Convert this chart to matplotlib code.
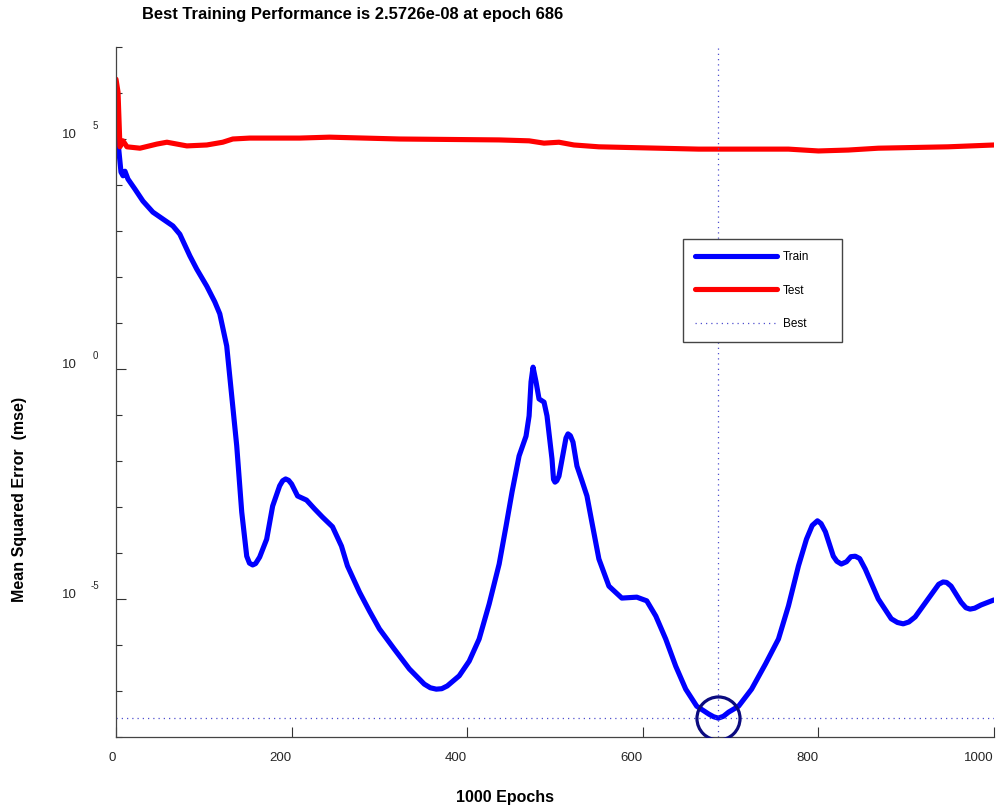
"""
MATLAB-style training performance plot (train / test MSE on a log axis).
"""

import matplotlib
matplotlib.use('Agg')
import matplotlib.pyplot as plt
import matplotlib.ticker as mticker
import matplotlib.transforms as mtransforms
import numpy as np

plt.rcParams['font.family'] = ['Liberation Sans', 'DejaVu Sans']

# --- data (y values are log10 of the mse) ---
train_epochs = [0, 2.3, 5.7, 8.0, 10.2, 13.6, 21.6, 30.7, 42.0, 53.4, 64.8, 72.7,
                84.1, 92.0, 103.4, 112.5, 118.2, 126.1, 131.8, 137.5, 143.2, 148.9,
                152.0, 155.7, 159.0, 163.6, 171.6, 178.4, 186.4, 189.8, 193.2, 196.6,
                200.0, 206.8, 217.0, 226.1, 235.2, 246.6, 256.8, 263.6, 277.3, 288.6,
                300.0, 317.0, 334.1, 351.1, 358.0, 364.8, 371.0, 377.3, 390.9, 402.3,
                413.6, 425.0, 436.4, 444.3, 451.1, 459.1, 467.0, 470.5, 472.7, 475.0,
                478.4, 481.8, 487.5, 490.9, 496.6, 498.3, 500.0, 502.0, 504.5, 510.2,
                512.5, 514.8, 517.5, 520.5, 525.0, 530.7, 536.4, 542.0, 550.0, 561.4,
                576.1, 593.2, 604.5, 614.8, 626.1, 637.5, 648.9, 661.4, 675.0, 680.7,
                686.0, 691.8, 697.7, 709.1, 723.9, 739.8, 754.5, 765.9, 777.3, 786.4,
                793.0, 798.9, 803.0, 808.0, 817.0, 821.0, 826.1, 832.0, 837.0, 842.0,
                847.0, 853.4, 868.2, 883.0, 890.0, 896.6, 903.0, 910.2, 925.0, 937.0,
                942.0, 946.0, 951.1, 962.5, 968.0, 972.7, 978.0, 985.2, 1000]
train_log10 = [6.15, 4.93, 4.28, 4.20, 4.30, 4.13, 3.91, 3.65, 3.41, 3.26, 3.11, 2.93,
               2.46, 2.17, 1.80, 1.46, 1.20, 0.50, -0.59, -1.67, -3.11, -4.07,
               -4.22, -4.26, -4.23, -4.09, -3.70, -2.98, -2.54, -2.43, -2.39, -2.42,
               -2.50, -2.76, -2.85, -3.04, -3.22, -3.43, -3.85, -4.28, -4.85, -5.26,
               -5.65, -6.09, -6.52, -6.85, -6.93, -6.96, -6.95, -6.89, -6.67, -6.35,
               -5.87, -5.11, -4.24, -3.41, -2.67, -1.89, -1.46, -1.02, -0.28, 0.04,
               -0.28, -0.65, -0.72, -1.02, -1.96, -2.40, -2.46, -2.43, -2.33, -1.74,
               -1.50, -1.41, -1.45, -1.59, -2.11, -2.43, -2.76, -3.33, -4.13, -4.72,
               -4.98, -4.96, -5.04, -5.37, -5.87, -6.46, -6.96, -7.33, -7.50, -7.56,
               -7.59, -7.55, -7.46, -7.33, -6.96, -6.41, -5.87, -5.15, -4.28, -3.70,
               -3.40, -3.30, -3.36, -3.54, -4.07, -4.18, -4.24, -4.19, -4.08, -4.07,
               -4.12, -4.35, -5.00, -5.43, -5.51, -5.54, -5.50, -5.39, -5.00, -4.68,
               -4.63, -4.64, -4.72, -5.07, -5.19, -5.22, -5.20, -5.13, -5.02]

test_epochs = [0, 2.3, 4.5, 8.0, 12.5, 27.3, 46.6, 58.0, 80.7, 103.4, 121.6, 133.0,
               152.3, 209.1, 243.2, 322.7, 436.4, 470.5, 487.5, 504.5, 521.6, 550.0,
               663.6, 765.9, 800.0, 834.1, 868.2, 947.7, 1000]
test_log10 = [6.30, 6.02, 4.83, 4.96, 4.83, 4.80, 4.89, 4.93, 4.85, 4.87, 4.93, 5.00,
              5.02, 5.02, 5.04, 5.00, 4.98, 4.96, 4.91, 4.93, 4.87, 4.83,
              4.78, 4.78, 4.74, 4.76, 4.80, 4.83, 4.87]

best_epoch = 686
best_perf = 2.5726e-08

x_ticks = [0, 200, 400, 600, 800, 1000]
y_labelled = [-5, 0, 5]
y_decades = list(range(-8, 8))

fig = plt.figure(figsize=(9.96, 8.11), dpi=100)
ax = fig.add_axes([116 / 996, 74 / 811, 878 / 996, 690 / 811])

line_kw = dict(linewidth=3.7, solid_capstyle='round', solid_joinstyle='round')
ax.plot(train_epochs, 10.0 ** np.array(train_log10), color='#0000ff', label='Train', **line_kw)
ax.plot(test_epochs, 10.0 ** np.array(test_log10), color='#ff0000', label='Test', **line_kw)

best_style = dict(color='#4f4fcf', linewidth=0.9, linestyle=(0, (1, 3.2)))
ax.axvline(best_epoch, **best_style)
ax.axhline(best_perf, label='Best', **best_style)
ax.plot(best_epoch, best_perf, 'o', markersize=31, markerfacecolor='none',
        markeredgecolor='#0b0b80', markeredgewidth=2.3, zorder=5)

ax.set_yscale('log')
ax.set_xlim(0, 1000)
ax.set_ylim(1e-8, 1e7)

# spines
for side in ('top', 'right'):
    ax.spines[side].set_visible(False)
for side in ('left', 'bottom'):
    ax.spines[side].set_color('#444444')
    ax.spines[side].set_linewidth(0.9)

# x ticks, labels right-aligned to the tick like the original
ax.set_xticks(x_ticks)
ax.set_xticklabels([str(t) for t in x_ticks], ha='right')
ax.tick_params(axis='x', direction='in', length=7.2, width=0.8, color='#333333',
               pad=11, labelsize=9.5, labelcolor='#262626')

# y ticks: long ticks on labelled decades, short on the rest
ax.yaxis.set_major_locator(mticker.FixedLocator([10.0 ** e for e in y_labelled]))
ax.yaxis.set_minor_locator(mticker.FixedLocator(
    [10.0 ** e for e in y_decades if e not in y_labelled]))
ax.yaxis.set_major_formatter(mticker.NullFormatter())
ax.yaxis.set_minor_formatter(mticker.NullFormatter())
ax.tick_params(axis='y', which='major', direction='in', length=7.2, width=0.8, color='#333333')
ax.tick_params(axis='y', which='minor', direction='in', length=4.0, width=0.8, color='#333333')

ytrans = ax.get_yaxis_transform()
base_trans = mtransforms.offset_copy(ytrans, fig=fig, x=0, y=4, units='dots')
exp_trans = mtransforms.offset_copy(ytrans, fig=fig, x=0, y=13, units='dots')
for e in y_labelled:
    ax.text(-0.0444, 10.0 ** e, '10', transform=base_trans, ha='right', va='center',
            fontsize=9.5, color='#262626')
    ax.text(-0.0235, 10.0 ** e, str(e), transform=exp_trans, ha='center', va='center',
            fontsize=7, color='#262626')

ax.set_xlabel('1000 Epochs', fontsize=11.5, fontweight='bold')
ax.xaxis.set_label_coords(0.443, -0.088)
ax.set_ylabel('Mean Squared Error  (mse)', fontsize=11.5, fontweight='bold')
ax.yaxis.set_label_coords(-0.11, 0.345)
for lab in (ax.xaxis.label, ax.yaxis.label):
    lab.set_verticalalignment('center')

fig.text(142 / 996, 1 - 14 / 811, 'Best Training Performance is 2.5726e-08 at epoch 686',
         ha='left', va='center', fontsize=11.9, fontweight='bold')

leg = ax.legend(loc='upper left', bbox_to_anchor=(0.6458, 0.5725, 0.181, 0.1493),
                mode='expand', borderaxespad=0, fontsize=8.5, handlelength=6.9,
                handletextpad=0.5, labelspacing=1.8, borderpad=1.05,
                fancybox=False, framealpha=1)
leg.get_frame().set_edgecolor('#444444')
leg.get_frame().set_linewidth(1.0)

fig.savefig('out.png', dpi=100)
